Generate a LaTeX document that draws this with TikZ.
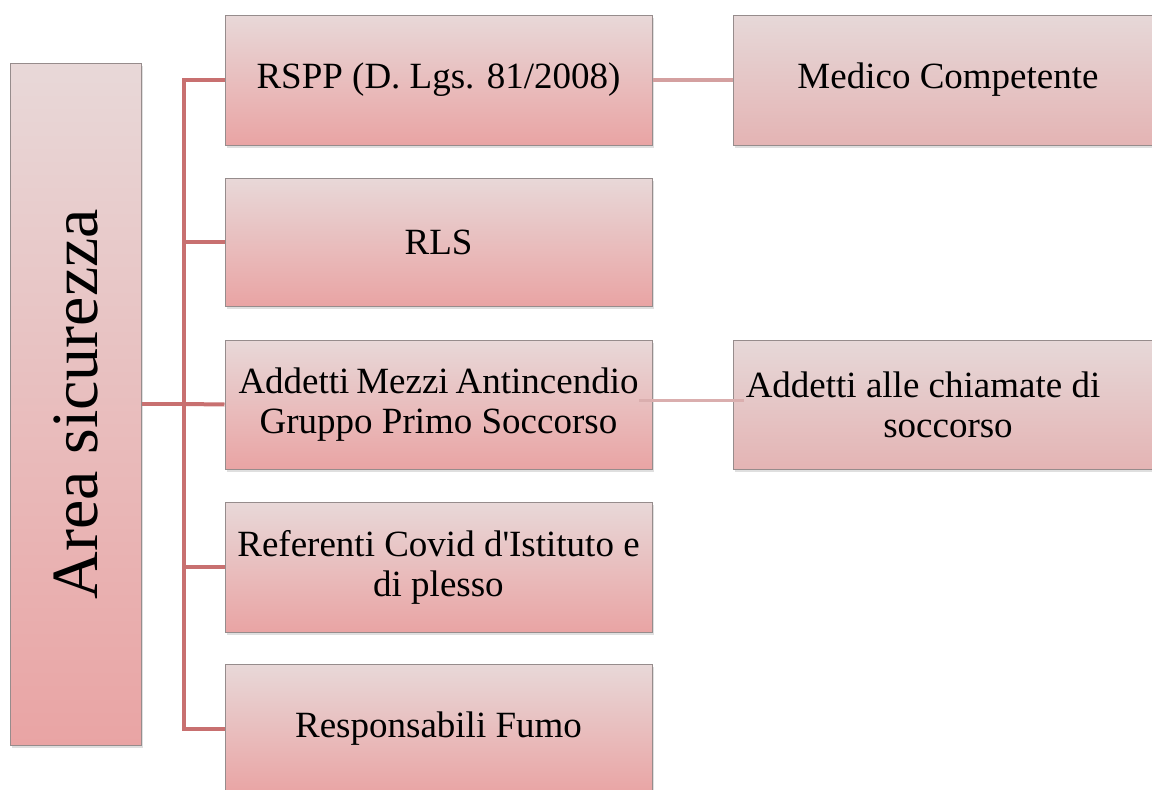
\documentclass[tikz,border=0pt]{standalone}
\usepackage{fontspec}
\setmainfont{Liberation Serif}
\usetikzlibrary{shadows}

\definecolor{boxtop}{RGB}{232,216,216}
\definecolor{boxbot}{RGB}{233,164,164}
\definecolor{sidetop}{RGB}{230,216,216}
\definecolor{sidebot}{RGB}{228,180,180}
\definecolor{trunkred}{RGB}{200,112,112}
\definecolor{linkpink}{RGB}{212,160,160}
\definecolor{boxedge}{RGB}{150,140,140}

\tikzset{
  rolebox/.style={draw=boxedge, line width=1pt, top color=boxtop, bottom color=boxbot,
    minimum width=427pt, minimum height=130pt, align=center, inner sep=2pt,
    font=\fontsize{37}{40}\selectfont,
    drop shadow={opacity=0.25, shadow xshift=2pt, shadow yshift=-3pt}},
  sidebox/.style={rolebox, top color=sidetop, bottom color=sidebot, minimum width=430pt},
  trunk/.style={draw=trunkred, line width=4pt},
  link/.style={draw=linkpink, line width=4pt}
}

\begin{document}
\begin{tikzpicture}[x=1pt,y=-1pt]
\useasboundingbox (0,0) rectangle (1152,790);
\clip (0,0) rectangle (1152,790);

% area
\node[rolebox, minimum width=131pt, minimum height=682pt, font=\fontsize{66}{70}\selectfont]
  (area) at (75.5,404) {\rotatebox{90}{Area sicurezza}};

% roles
\node[rolebox] (rspp) at (438.5,80) {RSPP (D. Lgs. 81/2008)};
\node[rolebox, minimum height=128pt] (rls) at (438.5,242) {RLS};
\node[rolebox, minimum height=129pt] (addetti) at (438.5,404.5)
  {\makebox[400pt][s]{Addetti Mezzi Antincendio}\\Gruppo Primo Soccorso};
\node[rolebox] (covid) at (438.5,567) {Referenti Covid d\textquotesingle Istituto e\\di plesso};
\node[rolebox] (fumo) at (438.5,729) {Responsabili Fumo};

% side boxes
\node[sidebox] (medico) at (948,80) {Medico Competente};
\node[sidebox, minimum height=129pt] (chiamate) at (948,404.5)
  {Addetti alle chiamate di\hspace*{50pt}\\soccorso};

% connectors
\coordinate (fork) at (184,404);
\draw[trunk] (area.east) -- (fork);
\draw[trunk] (rspp.west) -| (fork) |- (fumo.west);
\draw[trunk] (rls.west) -| (fork);
\draw[trunk] (addetti.west) -- (fork);
\draw[trunk] (covid.west) -| (fork);

\draw[link] (rspp.east) -- (medico.west);
\draw[link, line width=3pt, draw=linkpink!85] ([xshift=-14pt,yshift=4pt]addetti.east) -- ([xshift=11pt,yshift=4pt]chiamate.west);
\end{tikzpicture}
\end{document}
